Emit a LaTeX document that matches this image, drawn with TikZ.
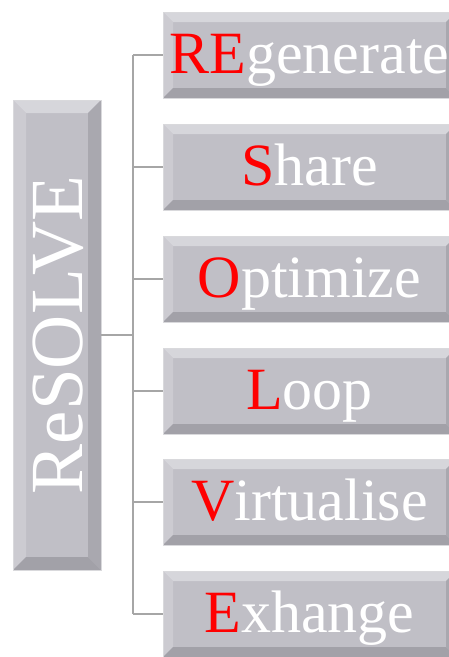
\documentclass[tikz,border=0pt]{standalone}
\usepackage{fontspec}
\setmainfont{Liberation Serif}
\usetikzlibrary{positioning, calc}
\definecolor{bFace}{HTML}{C0BFC6}
\definecolor{bTop}{HTML}{D6D6DB}
\definecolor{bLeft}{HTML}{CCCBD1}
\definecolor{bRight}{HTML}{A9A8AF}
\definecolor{bBottom}{HTML}{A2A1A8}
\definecolor{bEdge}{HTML}{D9D9DC}
\definecolor{lGray}{HTML}{A6A6A6}
\definecolor{kRed}{HTML}{FF0000}
\tikzset{
  bevelbox/.style={draw=bEdge, line width=0.8pt, fill=bFace, inner sep=0pt,
    path picture={
      \coordinate (nw) at (path picture bounding box.north west);
      \coordinate (ne) at (path picture bounding box.north east);
      \coordinate (sw) at (path picture bounding box.south west);
      \coordinate (se) at (path picture bounding box.south east);
      \fill[bTop] (nw) -- (ne) -- ($(ne)+(-#1,-#1)$) -- ($(nw)+(#1,-#1)$) -- cycle;
      \fill[bLeft] (nw) -- (sw) -- ($(sw)+(#1,#1)$) -- ($(nw)+(#1,-#1)$) -- cycle;
      \fill[bRight] (ne) -- (se) -- ($(se)+(-#1,#1)$) -- ($(ne)+(-#1,-#1)$) -- cycle;
      \fill[bBottom] (sw) -- (se) -- ($(se)+(-#1,#1)$) -- ($(sw)+(#1,#1)$) -- cycle;
    }},
  stepbox/.style={bevelbox=10pt, minimum width=293pt, minimum height=86pt,
    text=white, font=\fontsize{60}{60}\selectfont,
    text height=40pt, text depth=4pt},
  conn/.style={lGray, line width=1.5pt},
}
\newcommand{\kl}[1]{{\color{kRed}#1}}

\begin{document}
\begin{tikzpicture}[x=1pt, y=-1pt]
    \useasboundingbox (0,0) rectangle (449,657);
    % main box
    \node[bevelbox=13pt, minimum width=88pt, minimum height=470pt] (resolve) at (57,335) {};
    \node[rotate=90, text=white, font=\fontsize{75}{75}\selectfont,
          text height=50pt, text depth=0pt, inner sep=0pt] (resolvetxt) at (resolve) {ReSOLVE};
    % branches
    \node[stepbox] (regen) at (309.5,55)  {\kl{RE}generate};
    \node[stepbox] (share) at (309.5,167) {\kl{S}hare};
    \node[stepbox] (optim) at (309.5,279) {\kl{O}ptimize};
    \node[stepbox] (loop)  at (309.5,391) {\kl{L}oop};
    \node[stepbox] (virt)  at (309.5,502) {\kl{V}irtualise};
    \node[stepbox] (exch)  at (309.5,614) {\kl{E}xhange};
    % connectors
    \coordinate (hub) at (133,335);
    \draw[conn] (resolve.east) -- (hub);
    \draw[conn] (hub |- regen.west) -- (hub |- exch.west);
    \draw[conn] (hub |- regen.west) -- (regen.west);
    \draw[conn] (hub |- share.west) -- (share.west);
    \draw[conn] (hub |- optim.west) -- (optim.west);
    \draw[conn] (hub |- loop.west)  -- (loop.west);
    \draw[conn] (hub |- virt.west)  -- (virt.west);
    \draw[conn] (hub |- exch.west)  -- (exch.west);
\end{tikzpicture}
\end{document}
